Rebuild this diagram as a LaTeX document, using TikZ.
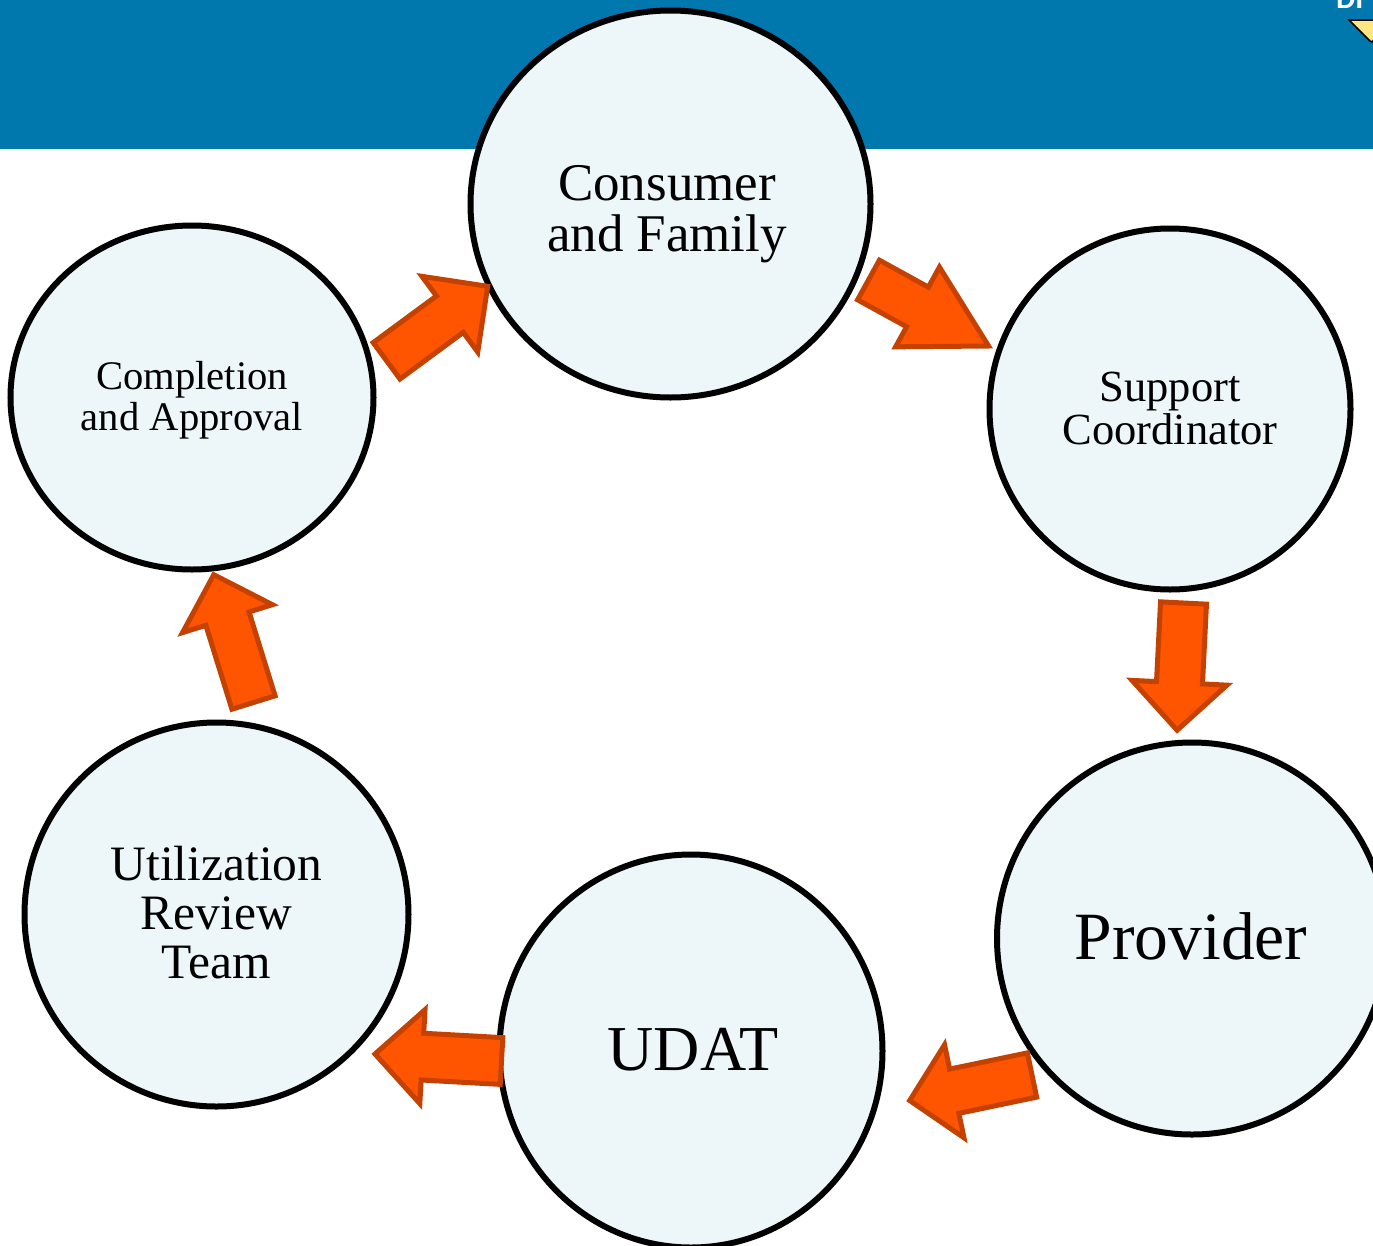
\documentclass[tikz,border=0pt]{standalone}
\usepackage{fontspec}
\setmainfont{Liberation Serif}
\newfontfamily\bannerfont{Liberation Sans}
\usetikzlibrary{calc,shapes.geometric}
\definecolor{bandblue}{RGB}{0,120,174}
\definecolor{bubble}{RGB}{237,246,249}
\definecolor{arrowfill}{RGB}{255,85,0}
\definecolor{arrowline}{RGB}{196,65,0}
\definecolor{flagyellow}{RGB}{255,230,128}
\tikzset{
  bubblenode/.style={ellipse,draw=black,fill=bubble,line width=6pt,inner sep=0pt,outer sep=0pt},
  caption/.style={align=center,inner sep=0pt,text=black},
  blockarrow/.style={draw=arrowline,fill=arrowfill,line width=5pt,line join=miter,miter limit=10}
}
% #1 tail, #2 tip, #3 shaft half width, #4 head half width, #5 head length
\newcommand\blockarrowdraw[5]{%
  \coordinate (hb) at ($(#2)!#5pt!(#1)$);
  \draw[blockarrow]
    ($(#1)!#3pt!90:(#2)$) -- ($(hb)!#3pt!90:(#2)$) -- ($(hb)!#4pt!90:(#2)$) -- (#2)
    -- ($(hb)!#4pt!-90:(#2)$) -- ($(hb)!#3pt!-90:(#2)$) -- ($(#1)!#3pt!-90:(#2)$) -- cycle;
}
\begin{document}
\begin{tikzpicture}[x=1pt,y=-1pt]
\useasboundingbox (0,0) rectangle (1373,1245);
\clip (0,0) rectangle (1373,1245);
\fill[white] (0,0) rectangle (1373,1245);
\fill[bandblue] (0,0) rectangle (1373,149);
\node[anchor=base west,inner sep=0pt,text=white,font=\bannerfont\bfseries\fontsize{27}{27}\selectfont] (bannertext) at (1336,8) {DI};
\draw[black,line width=1.5pt,fill=flagyellow] (1349,20) -- (1390,20) -- (1372,42) -- (1370,41) -- cycle;

\node[bubblenode,minimum width=400pt,minimum height=387pt] (consumer) at (670.5,204) {};
\node[bubblenode,minimum width=361pt,minimum height=361pt] (support) at (1170,409) {};
\node[bubblenode,minimum width=390pt,minimum height=392pt] (provider) at (1192,938.5) {};
\node[bubblenode,minimum width=383pt,minimum height=393pt] (udat) at (691,1051) {};
\node[bubblenode,minimum width=384pt,minimum height=384pt] (review) at (216.5,914.5) {};
\node[bubblenode,minimum width=363pt,minimum height=344pt] (completion) at (192,397.5) {};

\node[caption,font=\fontsize{53}{51}\selectfont] (consumertext) at (667,214) {Consumer\\and Family};
\node[caption,font=\fontsize{44.5}{43}\selectfont] (supporttext) at (1170,408) {Support\\Coordinator};
\node[caption,font=\fontsize{67.6}{70}\selectfont] (providertext) at (1191,936) {Provider};
\node[caption,font=\fontsize{64}{66}\selectfont] (udattext) at (693,1050) {UDAT};
\node[caption,font=\fontsize{49.5}{49}\selectfont] (reviewtext) at (216.5,913) {Utilization\\Review\\Team};
\node[caption,font=\fontsize{40.6}{41}\selectfont] (completiontext) at (192,400) {Completion\\and Approval};

\coordinate (a1s) at ($(consumer)+(198,76)$);
\coordinate (a1e) at ($(consumer)+(318,142)$);
\coordinate (a2s) at ($(support)+(13.5,194)$);
\coordinate (a2e) at ($(support)+(7.1,321.2)$);
\coordinate (a3s) at ($(provider)+(-160,136.5)$);
\coordinate (a3e) at ($(provider)+(-282.3,162)$);
\coordinate (a4s) at ($(udat)+(-189.5,10)$);
\coordinate (a4e) at ($(udat)+(-316,3)$);
\coordinate (a5s) at ($(review)+(37,-212)$);
\coordinate (a5e) at ($(review)+(-2.7,-339.8)$);
\coordinate (a6s) at ($(completion)+(194.6,-36.7)$);
\coordinate (a6e) at ($(completion)+(295.7,-111.2)$);

\blockarrowdraw{a1s}{a1e}{22.6}{45.5}{81}
\blockarrowdraw{a2s}{a2e}{23}{47.5}{47.5}
\blockarrowdraw{a3s}{a3e}{22.6}{47.5}{45.5}
\blockarrowdraw{a4s}{a4e}{23.4}{47}{47.5}
\blockarrowdraw{a5s}{a5e}{22.6}{47}{46}
\blockarrowdraw{a6s}{a6e}{22.6}{47}{47}
\end{tikzpicture}
\end{document}
